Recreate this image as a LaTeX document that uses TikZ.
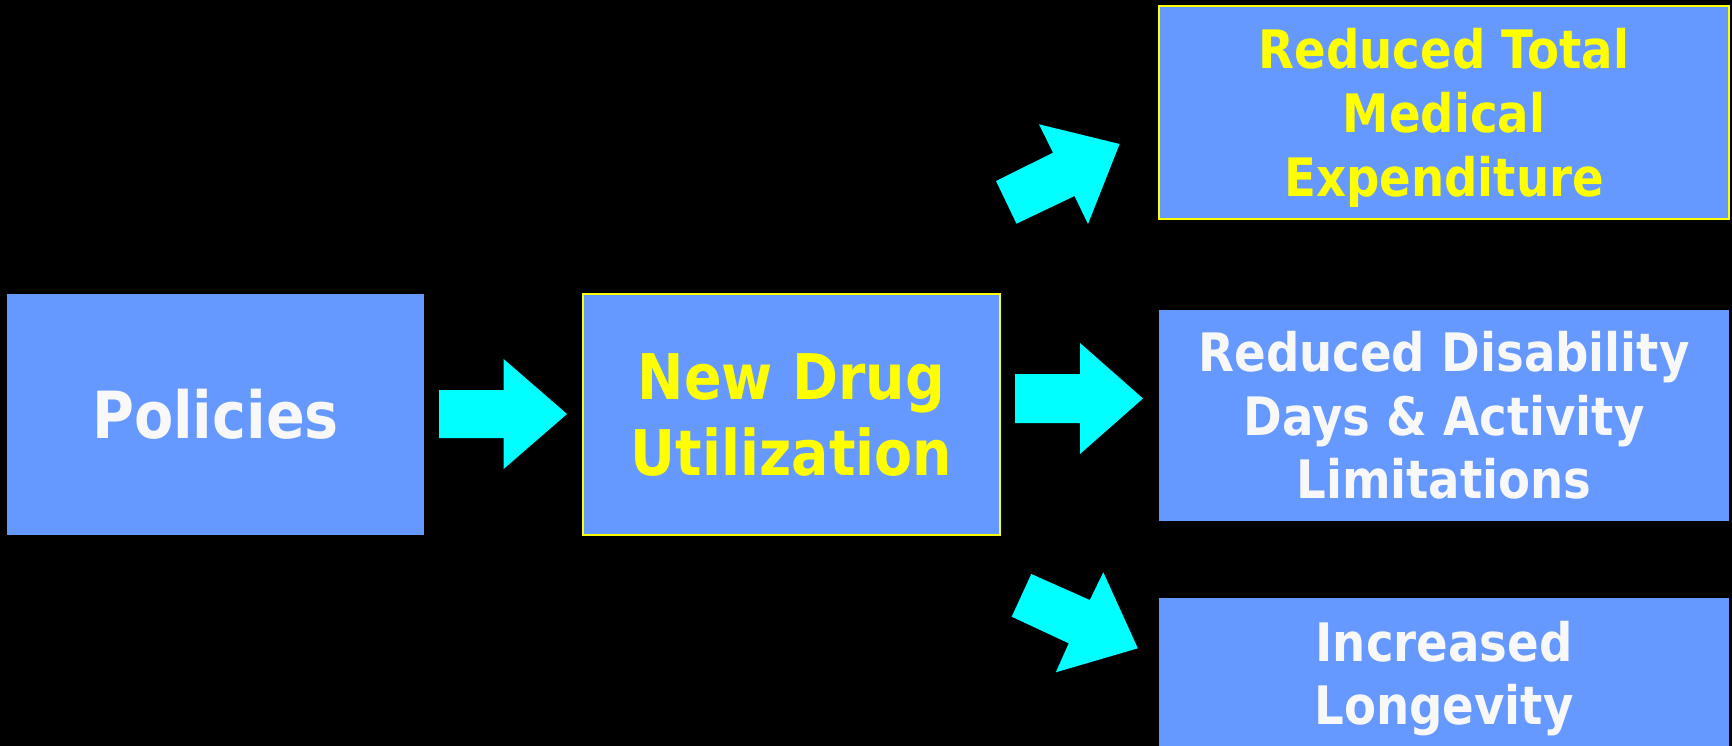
\documentclass[tikz,border=0pt]{standalone}
\usepackage{fontspec}
\newfontfamily\boxfont[FakeStretch=0.88]{DejaVu Sans}
\definecolor{boxblue}{HTML}{6699FF}
\definecolor{arrowcyan}{HTML}{00FFFF}
\definecolor{txtyellow}{HTML}{FFFF00}
\definecolor{txtwhite}{HTML}{F8F8F8}
\tikzset{
  box/.style={fill=boxblue, inner sep=0pt, outer sep=0pt, align=center},
  yellowframe/.style={draw=txtyellow, line width=2pt},
  bigtext/.style={font=\boxfont\bfseries\fontsize{65}{77}\selectfont},
  midtext/.style={font=\boxfont\bfseries\fontsize{63}{76.4}\selectfont},
  smalltext/.style={font=\boxfont\bfseries\fontsize{53}{63.6}\selectfont},
  blockarrow/.style={fill=arrowcyan}
}
\begin{document}
\begin{tikzpicture}[x=1pt,y=-1pt]
\fill[black] (0,0) rectangle (1732,746);
\useasboundingbox (0,0) rectangle (1732,746);

\node[box, bigtext, text=txtwhite, minimum width=417pt, minimum height=241pt,
      text height=47.5pt, text depth=0pt] (pol) at (215.5,414.5) {Policies};

\node[box, yellowframe, midtext, text=txtyellow, minimum width=417pt, minimum height=241pt,
      text height=122.4pt, text depth=0pt] (ndu) at (791.5,414.5) {New Drug\\Utilization};

\node[box, yellowframe, smalltext, text=txtyellow, minimum width=570pt, minimum height=213pt,
      text height=166.2pt, text depth=0pt] (exp) at (1444,113) {Reduced Total\\Medical\\Expenditure};

\node[box, smalltext, text=txtwhite, minimum width=570pt, minimum height=211pt,
      text height=166.2pt, text depth=0pt] (dis) at (1444,415.5) {Reduced Disability\\Days \& Activity\\Limitations};

\node[box, smalltext, text=txtwhite, minimum width=570pt, minimum height=151pt,
      text height=102.6pt, text depth=0pt] (lon) at (1444,673.5) {Increased\\Longevity};

% block arrows
\fill[blockarrow] (439,390) -- (503.6,390) -- (503.6,359) -- (567,414) -- (503.6,469) -- (503.6,438) -- (439,438) -- cycle;
\fill[blockarrow] (1015,374) -- (1080,374) -- (1080,343) -- (1143,398.5) -- (1080,454) -- (1080,423) -- (1015,423) -- cycle;
\fill[blockarrow] (996,181) -- (1053,152.7) -- (1039,124.3) -- (1119.6,144) -- (1088,224) -- (1074.5,196) -- (1016.5,223.7) -- cycle;
\fill[blockarrow] (1031.3,574) -- (1089.8,600) -- (1103.3,572.3) -- (1137.8,648.3) -- (1055.8,672.3) -- (1068.7,643.3) -- (1011.7,616.7) -- cycle;
\end{tikzpicture}
\end{document}
